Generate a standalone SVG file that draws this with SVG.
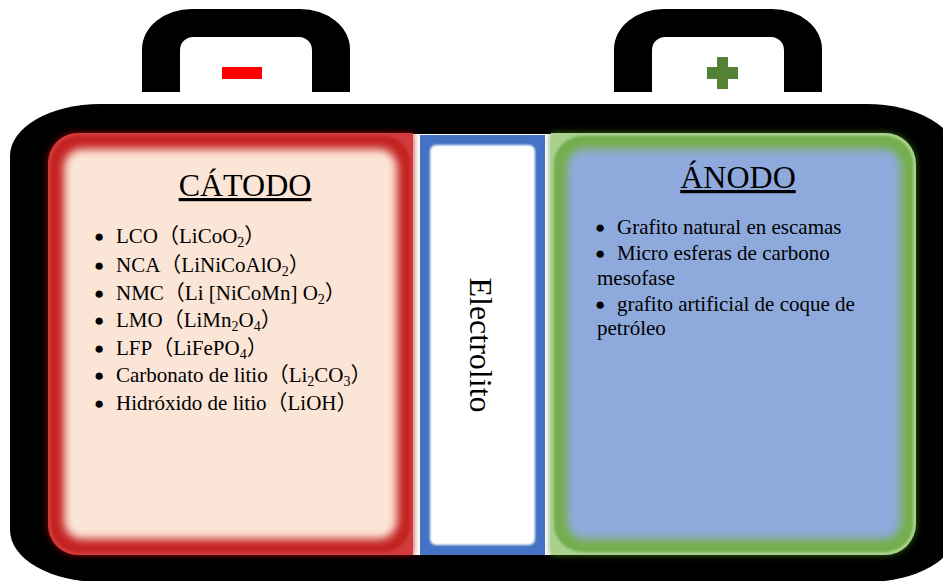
<svg xmlns="http://www.w3.org/2000/svg" width="943" height="581" viewBox="0 0 943 581">
  <style>
    .txt { font-family: "Liberation Serif", "Noto Sans CJK SC", serif; fill: #000; }
    .title { font-size: 32px; text-anchor: middle; text-decoration: underline; }
    .item { font-size: 21px; }
    .bul { font-size: 17px; }
    .sub { font-size: 14px; }
    .handle { fill: #000; }
  </style>
  <defs>
    <filter id="blur4" x="-20%" y="-20%" width="140%" height="140%">
      <feGaussianBlur stdDeviation="4.5"/>
    </filter>
    <filter id="blur3" x="-20%" y="-20%" width="140%" height="140%">
      <feGaussianBlur stdDeviation="3.5"/>
    </filter>
    <filter id="blur1" x="-10%" y="-10%" width="120%" height="120%">
      <feGaussianBlur stdDeviation="1.2"/>
    </filter>
    <clipPath id="cathClip">
      <path d="M48,163 A30,30 0 0 1 78,133 H413 V555 H78 A30,30 0 0 1 48,525 Z"/>
    </clipPath>
    <clipPath id="anodeClip">
      <path d="M551,133 H885 A31,31 0 0 1 916,164 V524 A31,31 0 0 1 885,555 H551 Z"/>
    </clipPath>
    <path id="handleShape" d="M142,92 V49 A50,40 0 0 1 192,9 H300 A50,40 0 0 1 350,49 V92 H312 V50 A13,13 0 0 0 299,37 H193 A13,13 0 0 0 180,50 V92 Z"/>
  </defs>

  <rect x="0" y="0" width="943" height="581" fill="#fff"/>

  <!-- handles -->
  <g id="handle-neg">
    <use href="#handleShape" class="handle"/>
    <rect x="222" y="67" width="40" height="12" fill="#ff0000"/>
  </g>
  <g id="handle-pos">
    <use href="#handleShape" class="handle" transform="translate(472,0)"/>
    <path d="M717,57 H728 V67 H738 V79 H728 V89 H717 V79 H707 V67 H717 Z" fill="#538135"/>
  </g>

  <!-- battery body -->
  <g id="body">
    <path d="M100,104 H867 A90,52 0 0 1 957,156 V530 A90,52 0 0 1 867,582 H100 A90,52 0 0 1 10,530 V156 A90,52 0 0 1 100,104 Z" fill="#000"/>
    <rect x="406" y="134" width="150" height="421" fill="#fff"/>
  </g>

  <!-- cathode -->
  <g id="cathode">
    <path d="M48,163 A30,30 0 0 1 78,133 H413 V555 H78 A30,30 0 0 1 48,525 Z" fill="#b00000" opacity="0.85" filter="url(#blur3)"/>
    <g clip-path="url(#cathClip)">
      <rect x="40" y="125" width="380" height="440" fill="#d03c3c"/>
      <rect x="51" y="136" width="359" height="416" rx="27" fill="#c42222" filter="url(#blur1)"/>
      <rect x="64" y="149" width="333" height="390" rx="18" fill="#fbe5d6" filter="url(#blur4)"/>
    </g>
    <text class="txt title" x="245" y="196">CÁTODO</text>
    <g class="txt item">
      <text y="243"><tspan class="bul" x="94" dy="-1">●</tspan><tspan x="116" dy="1">LCO（LiCoO</tspan><tspan class="sub" dy="4">2</tspan><tspan dy="-4">）</tspan></text>
      <text y="272"><tspan class="bul" x="94" dy="-1">●</tspan><tspan x="116" dy="1">NCA（LiNiCoAlO</tspan><tspan class="sub" dy="4">2</tspan><tspan dy="-4">）</tspan></text>
      <text y="300"><tspan class="bul" x="94" dy="-1">●</tspan><tspan x="116" dy="1">NMC（Li [NiCoMn] O</tspan><tspan class="sub" dy="4">2</tspan><tspan dy="-4">）</tspan></text>
      <text y="327"><tspan class="bul" x="94" dy="-1">●</tspan><tspan x="116" dy="1">LMO（LiMn</tspan><tspan class="sub" dy="4">2</tspan><tspan dy="-4">O</tspan><tspan class="sub" dy="4">4</tspan><tspan dy="-4">）</tspan></text>
      <text y="355"><tspan class="bul" x="94" dy="-1">●</tspan><tspan x="116" dy="1">LFP（LiFePO</tspan><tspan class="sub" dy="4">4</tspan><tspan dy="-4">）</tspan></text>
      <text y="382"><tspan class="bul" x="94" dy="-1">●</tspan><tspan x="116" dy="1">Carbonato de litio（Li</tspan><tspan class="sub" dy="4">2</tspan><tspan dy="-4">CO</tspan><tspan class="sub" dy="4">3</tspan><tspan dy="-4">）</tspan></text>
      <text y="410"><tspan class="bul" x="94" dy="-1">●</tspan><tspan x="116" dy="1">Hidróxido de litio（LiOH）</tspan></text>
    </g>
  </g>

  <!-- electrolyte -->
  <g id="electrolyte">
    <rect x="420" y="135" width="125" height="420" fill="#4472c4"/>
    <rect x="430" y="145" width="105" height="400" rx="6" fill="#fff" filter="url(#blur1)"/>
    <text class="txt" font-size="32" text-anchor="middle" transform="translate(470,345) rotate(90)" x="0" y="0">Electrolito</text>
  </g>

  <!-- anode -->
  <g id="anode">
    <path d="M551,133 H885 A31,31 0 0 1 916,164 V524 A31,31 0 0 1 885,555 H551 Z" fill="#3f7a1f" opacity="0.85" filter="url(#blur3)"/>
    <g clip-path="url(#anodeClip)">
      <rect x="545" y="125" width="380" height="440" fill="#a9d18e"/>
      <rect x="554" y="136" width="359" height="416" rx="28" fill="#74ae4c" filter="url(#blur1)"/>
      <rect x="567" y="149" width="334" height="390" rx="18" fill="#8eaadc" filter="url(#blur4)"/>
    </g>
    <text class="txt title" x="738" y="188">ÁNODO</text>
    <g class="txt item">
      <text y="234"><tspan class="bul" x="595" dy="-1">●</tspan><tspan x="617" dy="1">Grafito natural en escamas</tspan></text>
      <text y="260"><tspan class="bul" x="595" dy="-1">●</tspan><tspan x="617" dy="1">Micro esferas de carbono</tspan><tspan x="597" dy="25">mesofase</tspan></text>
      <text y="311"><tspan class="bul" x="595" dy="-1">●</tspan><tspan x="617" dy="1">grafito artificial de coque de</tspan><tspan x="597" dy="24">petróleo</tspan></text>
    </g>
  </g>
</svg>
